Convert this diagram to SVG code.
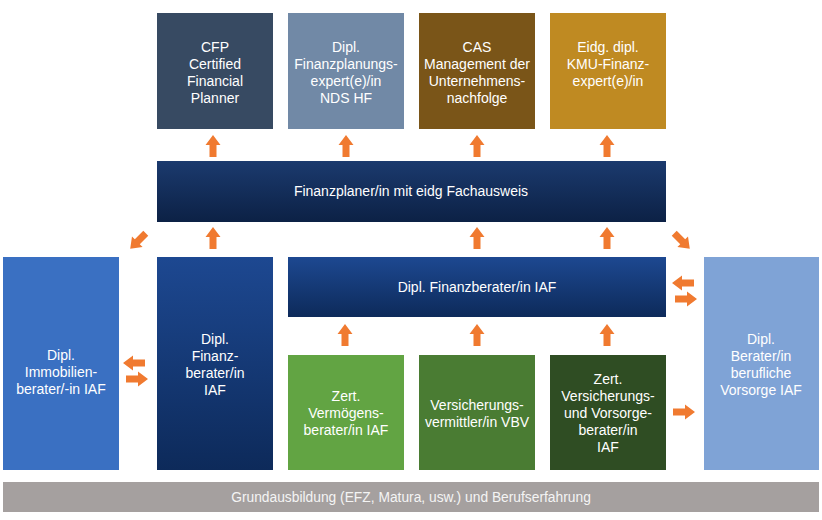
<svg xmlns="http://www.w3.org/2000/svg" width="822" height="520" viewBox="0 0 822 520">
<style>
text{font-family:"Liberation Sans",Arial,sans-serif;font-size:14px;fill:#ffffff;text-anchor:middle}
.arrow{fill:#f07a30}
</style>
<defs>
<linearGradient id="gNavy" x1="0" y1="0" x2="0" y2="1"><stop offset="0" stop-color="#1b3a6e"/><stop offset="1" stop-color="#0c2145"/></linearGradient>
<linearGradient id="gBlue" x1="0" y1="0" x2="0" y2="1"><stop offset="0" stop-color="#1d4891"/><stop offset="1" stop-color="#0d2a5a"/></linearGradient>
<path id="arr" d="M0,-11 L7.5,-1 L3.5,-1 L3.5,11 L-3.5,11 L-3.5,-1 L-7.5,-1 Z"/>
</defs>
<rect width="822" height="520" fill="#ffffff"/>
<g id="cfp"><rect x="157" y="13" width="116" height="116" fill="#374a62"/><text x="215" y="52">CFP</text><text x="215" y="69">Certified</text><text x="215" y="86">Financial</text><text x="215" y="103">Planner</text></g>
<g id="finanzplanungsexperte"><rect x="288" y="13" width="116" height="116" fill="#7189a6"/><text x="346" y="52">Dipl.</text><text x="346" y="69">Finanzplanungs-</text><text x="346" y="86">expert(e)/in</text><text x="346" y="103">NDS HF</text></g>
<g id="cas"><rect x="419" y="13" width="116" height="116" fill="#7a5518"/><text x="477" y="52">CAS</text><text x="477" y="69">Management der</text><text x="477" y="86">Unternehmens-</text><text x="477" y="103">nachfolge</text></g>
<g id="kmu"><rect x="550" y="13" width="116" height="116" fill="#bf8a22"/><text x="608" y="52">Eidg. dipl.</text><text x="608" y="69">KMU-Finanz-</text><text x="608" y="86">expert(e)/in</text></g>
<g id="finanzplaner"><rect x="157" y="161" width="509" height="61" fill="url(#gNavy)"/><text x="411" y="196">Finanzplaner/in mit eidg Fachausweis</text></g>
<g id="immobilien"><rect x="3" y="257" width="116" height="213" fill="#3a70c2"/><text x="61" y="360">Dipl.</text><text x="61" y="377">Immobilien-</text><text x="61" y="394">berater/-in IAF</text></g>
<g id="finanzberater-tall"><rect x="157" y="257" width="116" height="213" fill="url(#gBlue)"/><text x="215" y="344">Dipl.</text><text x="215" y="361">Finanz-</text><text x="215" y="378">berater/in</text><text x="215" y="395">IAF</text></g>
<g id="finanzberater"><rect x="288" y="257" width="378" height="60" fill="url(#gBlue)"/><text x="477" y="292">Dipl. Finanzberater/in IAF</text></g>
<g id="vermoegensberater"><rect x="288" y="355" width="116" height="115" fill="#62a443"/><text x="346" y="401">Zert.</text><text x="346" y="418">Vermögens-</text><text x="346" y="435">berater/in IAF</text></g>
<g id="vbv"><rect x="419" y="355" width="116" height="115" fill="#4a7c33"/><text x="477" y="410">Versicherungs-</text><text x="477" y="427">vermittler/in VBV</text></g>
<g id="vorsorgeberater"><rect x="550" y="355" width="116" height="115" fill="#2f4d23"/><text x="608" y="384">Zert.</text><text x="608" y="401">Versicherungs-</text><text x="608" y="418">und Vorsorge-</text><text x="608" y="435">berater/in</text><text x="608" y="452">IAF</text></g>
<g id="berufliche-vorsorge"><rect x="704" y="257" width="115" height="213" fill="#7fa3d6"/><text x="761" y="344">Dipl.</text><text x="761" y="361">Berater/in</text><text x="761" y="378">berufliche</text><text x="761" y="395">Vorsorge IAF</text></g>
<g id="grundausbildung"><rect x="3" y="482" width="816" height="30" fill="#a5a09f"/><text x="411" y="502" style="fill:#f4f4f4;font-size:13.8px">Grundausbildung (EFZ, Matura, usw.) und Berufserfahrung</text></g>
<g id="connectors" class="arrow">
<use href="#arr" transform="translate(213,146)"/>
<use href="#arr" transform="translate(346,146)"/>
<use href="#arr" transform="translate(477,146)"/>
<use href="#arr" transform="translate(607,146)"/>
<use href="#arr" transform="translate(213,238)"/>
<use href="#arr" transform="translate(477,238)"/>
<use href="#arr" transform="translate(607,238)"/>
<use href="#arr" transform="translate(138,241) rotate(-135)"/>
<use href="#arr" transform="translate(682,241) rotate(135)"/>
<use href="#arr" transform="translate(345,335)"/>
<use href="#arr" transform="translate(477,335)"/>
<use href="#arr" transform="translate(607,335)"/>
<use href="#arr" transform="translate(134,363) rotate(-90)"/>
<use href="#arr" transform="translate(137,379) rotate(90)"/>
<use href="#arr" transform="translate(683,283) rotate(-90)"/>
<use href="#arr" transform="translate(686,299) rotate(90)"/>
<use href="#arr" transform="translate(684,412) rotate(90)"/>
</g>
</svg>
